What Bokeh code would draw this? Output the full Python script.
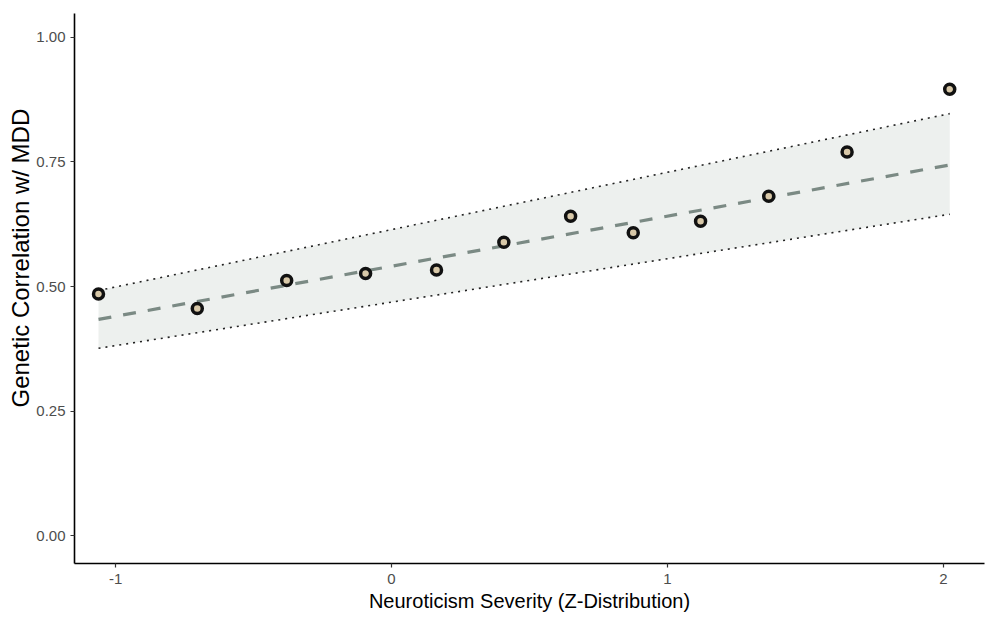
from bokeh.plotting import figure
from bokeh.embed import file_html
from bokeh.resources import INLINE
from bokeh.models import Range1d, FixedTicker, Title

# Data
severity = [-1.062, -0.704, -0.380, -0.094, 0.163, 0.407, 0.649, 0.876, 1.120, 1.367, 1.651, 2.023]
rg_mdd = [0.485, 0.456, 0.512, 0.526, 0.533, 0.589, 0.641, 0.608, 0.631, 0.681, 0.770, 0.896]

fit_x = [-1.062, 2.023]
fit_y = [0.434, 0.744]
upper_y = [0.492, 0.847]
lower_y = [0.376, 0.645]

x_ticks = [-1, 0, 1, 2]
x_tick_labels = {-1: "-1", 0: "0", 1: "1", 2: "2"}
y_ticks = [0.0, 0.25, 0.5, 0.75, 1.0]
y_tick_labels = {0.0: "0.00", 0.25: "0.25", 0.5: "0.50", 0.75: "0.75", 1.0: "1.00"}

FONT = "Liberation Sans"

p = figure(width=1000, height=629, output_backend="svg", toolbar_location=None,
           x_range=Range1d(-1.149, 2.149), y_range=Range1d(-0.056, 1.048),
           min_border_left=74, min_border_right=16, min_border_top=13, min_border_bottom=66)

p.background_fill_color = "white"
p.border_fill_color = "white"
p.outline_line_color = None
p.grid.grid_line_color = None

p.varea(x=fit_x, y1=lower_y, y2=upper_y, fill_color="#edf0ee", fill_alpha=1.0)
p.line(fit_x, upper_y, line_color="#222222", line_width=1.6, line_dash="2 5")
p.line(fit_x, lower_y, line_color="#222222", line_width=1.6, line_dash="2 5")
p.line(fit_x, fit_y, line_color="#7b8a84", line_width=3.2, line_dash="13 12")

p.scatter(severity, rg_mdd, size=10, fill_color="#d8c8a8", line_color="#111111", line_width=3.5)

for ax in (p.xaxis[0], p.yaxis[0]):
    ax.axis_line_color = "black"
    ax.axis_line_width = 1.6
    ax.major_tick_line_color = "#333333"
    ax.major_tick_line_width = 1.2
    ax.major_tick_out = 4
    ax.major_tick_in = 0
    ax.minor_tick_line_color = None
    ax.major_label_text_font = FONT
    ax.major_label_text_font_size = "15px"
    ax.major_label_text_color = "#4d4d4d"
    ax.axis_label_text_font = FONT
    ax.axis_label_text_font_size = "20px"
    ax.axis_label_text_font_style = "normal"
    ax.axis_label_text_color = "black"

p.xaxis.ticker = FixedTicker(ticks=x_ticks)
p.yaxis.ticker = FixedTicker(ticks=y_ticks)
p.xaxis.major_label_overrides = x_tick_labels
p.yaxis.major_label_overrides = y_tick_labels
p.xaxis.axis_label = "Neuroticism Severity (Z-Distribution)"
p.xaxis.major_label_standoff = 6
p.yaxis.major_label_standoff = 5
p.xaxis.axis_label_standoff = 3

ytitle = Title(text="Genetic Correlation w/ MDD", align="left", offset=156,
               text_font=FONT, text_font_size="24px", text_font_style="normal",
               text_color="black", standoff=0)
p.add_layout(ytitle, "left")

open("out.html", "w").write(file_html(p, INLINE))
